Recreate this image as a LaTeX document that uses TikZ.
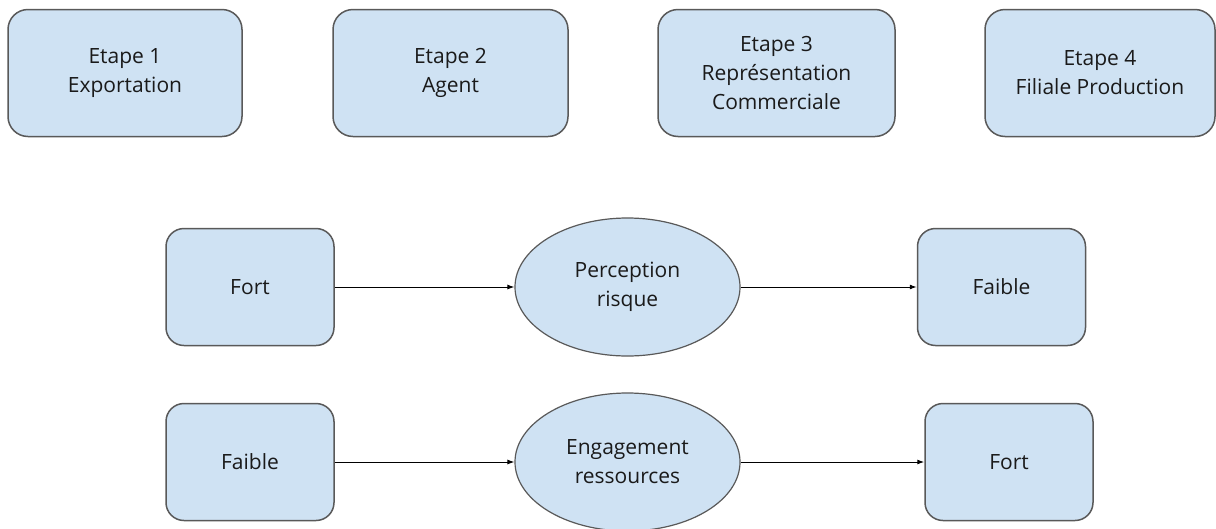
\documentclass[tikz,border=0pt]{standalone}
\usepackage{fontspec}
\setmainfont{Open Sans}
\usetikzlibrary{arrows.meta,shapes.geometric}
\definecolor{boxfill}{HTML}{CFE2F3}
\definecolor{boxline}{HTML}{595959}
\definecolor{txt}{HTML}{1A1A1A}
\tikzset{
  label text/.style={font=\fontsize{21}{29}\selectfont, text=txt, align=center},
  stepbox/.style={label text, draw=boxline, fill=boxfill, line width=1.5pt,
    rounded corners=20pt, inner sep=0pt, minimum width=#1, minimum height=127pt},
  levelbox/.style={label text, draw=boxline, fill=boxfill, line width=1.5pt,
    rounded corners=18pt, inner sep=0pt, minimum width=168pt, minimum height=117pt},
  factor/.style={label text, ellipse, draw=boxline, fill=boxfill, line width=1.2pt,
    inner sep=0pt, minimum width=225pt, minimum height=138pt},
  link/.style={draw=black, line width=1pt, -{Latex[length=7pt,width=5pt]}}
}
\begin{document}
\begin{tikzpicture}[x=1pt,y=-1pt]
  \useasboundingbox[fill=white] (0,0) rectangle (1216,528);

  % stages of internationalisation
  \node[stepbox=234pt] (s1) at (125,73)   {Etape 1\\Exportation};
  \node[stepbox=235pt] (s2) at (450.5,73) {Etape 2\\Agent};
  \node[stepbox=237pt] (s3) at (776.5,73) {Etape 3\\Représentation\\Commerciale};
  \node[stepbox=230pt] (s4) at (1100,73)  {Etape 4\\Filiale Production};

  % risk perception
  \node[levelbox] (r1) at (250,287)    {Fort};
  \node[factor]   (rp) at (627.5,287)  {Perception\\risque};
  \node[levelbox] (r2) at (1001.5,287) {Faible};

  % resource commitment
  \node[levelbox] (e1) at (250,462)    {Faible};
  \node[factor]   (er) at (627.5,462)  {Engagement\\ressources};
  \node[levelbox] (e2) at (1009,462)   {Fort};

  \draw[link] (r1.east) -- (rp.west);
  \draw[link] (rp.east) -- (r2.west);
  \draw[link] (e1.east) -- (er.west);
  \draw[link] (er.east) -- (e2.west);
\end{tikzpicture}
\end{document}
